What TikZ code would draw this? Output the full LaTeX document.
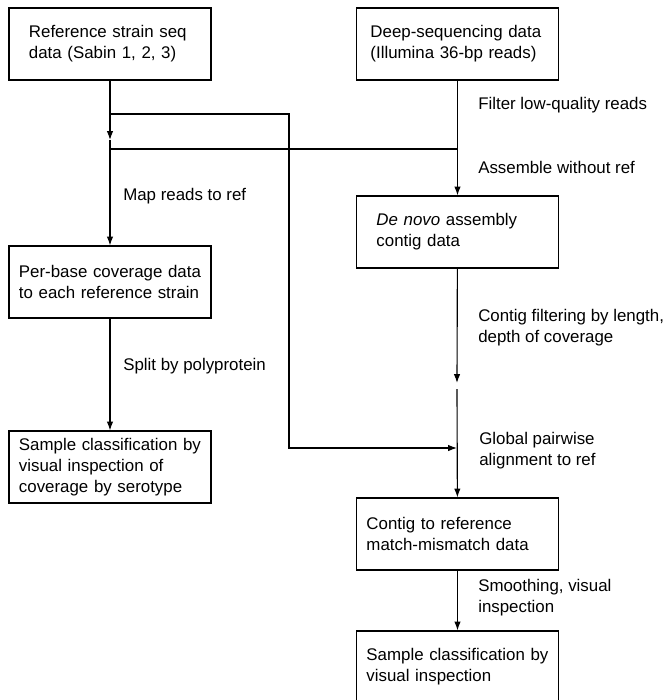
\documentclass[tikz,border=0pt]{standalone}
\usepackage{fontspec}
\setmainfont{Liberation Sans}
\usetikzlibrary{arrows.meta,positioning}

\begin{document}
\begin{tikzpicture}[
  x=0.025cm, y=-0.025cm,
  font=\fontsize{12}{15}\selectfont,
  box/.style={
    draw,
    line width=0.8pt,
    align=left,
    minimum width=5.05cm,
    minimum height=1.8cm,
    inner ysep=0pt
  },
  widebox/.style={box, text width=4.05cm, inner xsep=0.5cm},
  deepbox/.style={box, text width=4.35cm, inner xsep=0.35cm},
  narrowbox/.style={box, text width=4.55cm, inner xsep=0.25cm},
  step label/.style={align=left, anchor=west, inner sep=0pt},
  line/.style={line width=0.8pt},
  flow/.style={line width=0.8pt, -{Latex[length=2.2mm,width=1.6mm]}}
]
\useasboundingbox (0,0) rectangle (664,700);

% Input data
\node[widebox] (ref) at (110,44) {%
  Reference strain seq\\
  data (Sabin 1, 2, 3)
};

\node[deepbox] (deep) at (457.5,44) {%
  Deep-sequencing data\\
  (Illumina 36-bp reads)
};

% Left branch
\node[narrowbox] (perbase) at (110,282) {%
  Per-base coverage data\\
  to each reference strain
};

\node[narrowbox] (serotype) at (110,467) {%
  Sample classification by\\
  visual inspection of\\
  coverage by serotype
};

% Right branch
\node[widebox] (denovo) at (457.5,232) {%
  \emph{De novo} assembly\\
  contig data
};

\node[narrowbox] (contig) at (457.5,534) {%
  Contig to reference\\
  match-mismatch data
};

\node[narrowbox] (visual) at (457.5,667) {%
  Sample classification by\\
  visual inspection
};

% Junction points
\coordinate (refTip) at (110,140);
\coordinate (refJog) at (110,114);
\coordinate (jogTop) at (289,114);
\coordinate (jogBot) at (289,448);
\coordinate (alignIn) at (457,448);
\coordinate (refJoin) at (110,149);
\coordinate (seqJoin) at (457,149);
\coordinate (filtTip) at (457,383);
\coordinate (alignTop) at (457,389);

% Connectors
\draw[flow] (ref) -- (refTip);
\draw[flow] (refTip) -- (perbase);
\draw[line] (refJoin) -- (seqJoin);
\draw[flow] (refJog) -- (jogTop) -- (jogBot) -- (alignIn);
\draw[flow] (deep) -- (denovo);
\draw[flow] (denovo) -- (filtTip);
\draw[flow] (alignTop) -- (contig);
\draw[flow] (perbase) -- (serotype);
\draw[flow] (contig) -- (visual);

% Step labels
\node[step label] (lblFilter) at (478,105) {Filter low-quality reads};
\node[step label] (lblAssemble) at (478,167) {Assemble without ref};
\node[step label] (lblMap) at (123,196) {Map reads to ref};
\node[step label] (lblContig) at (478,328) {Contig filtering by length,\\depth of coverage};
\node[step label] (lblSplit) at (123,366) {Split by polyprotein};
\node[step label] (lblGlobal) at (479,451) {Global pairwise\\alignment to ref};
\node[step label] (lblSmooth) at (478,598) {Smoothing, visual\\inspection};

\end{tikzpicture}
\end{document}
